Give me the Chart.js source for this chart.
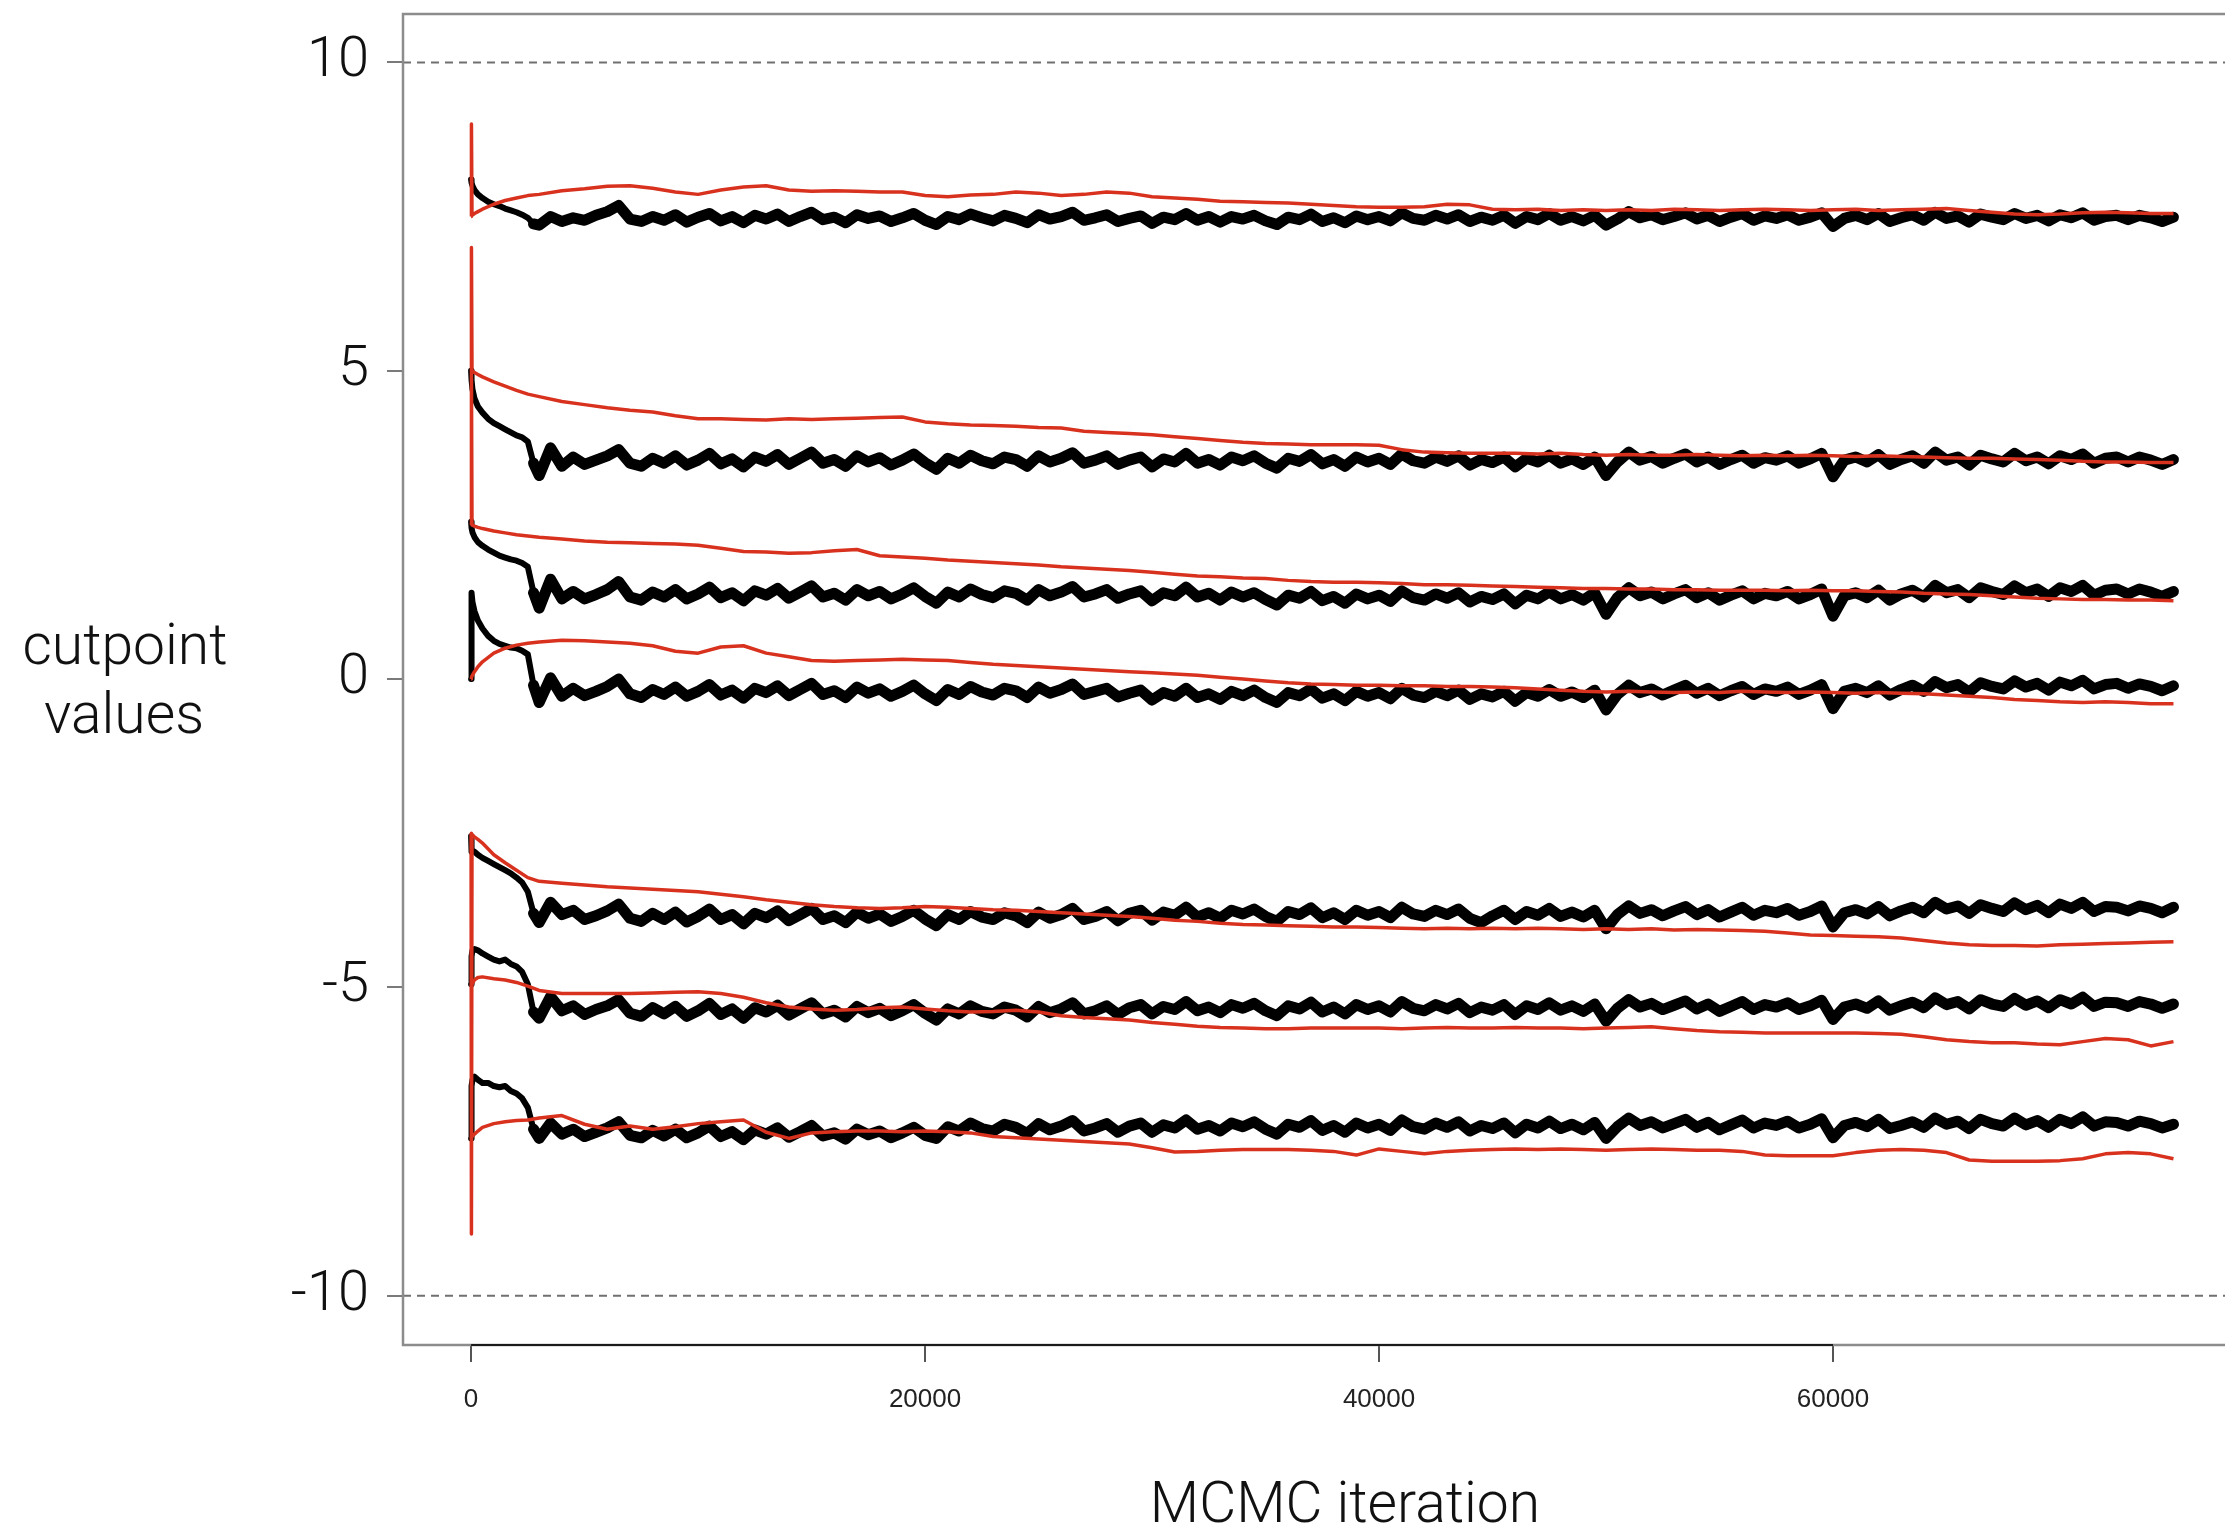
<!DOCTYPE html>
<html>
<head>
<meta charset="utf-8">
<title>MCMC cutpoint traces</title>
<script src="https://cdn.jsdelivr.net/npm/chart.js@4.4.1/dist/chart.umd.min.js"></script>
<style>
    html, body { margin: 0; padding: 0; background: #fff; overflow: hidden; }
    #traceChart { display: block; }
</style>
</head>
<body>
<canvas id="traceChart" width="2225" height="1529"></canvas>
<script>
// Iterations for the black chain (dense at the start, then every 500)
const iterBlack = [
    0, 20, 60, 150, 300, 500, 750, 1000, 1250, 1500, 1750, 2000, 2250, 2500, 2750,
    3000, 3500, 4000, 4500, 5000, 5500, 6000, 6500, 7000, 7500,
    8000, 8500, 9000, 9500, 10000, 10500, 11000, 11500, 12000, 12500,
    13000, 13500, 14000, 14500, 15000, 15500, 16000, 16500, 17000, 17500,
    18000, 18500, 19000, 19500, 20000, 20500, 21000, 21500, 22000, 22500,
    23000, 23500, 24000, 24500, 25000, 25500, 26000, 26500, 27000, 27500,
    28000, 28500, 29000, 29500, 30000, 30500, 31000, 31500, 32000, 32500,
    33000, 33500, 34000, 34500, 35000, 35500, 36000, 36500, 37000, 37500,
    38000, 38500, 39000, 39500, 40000, 40500, 41000, 41500, 42000, 42500,
    43000, 43500, 44000, 44500, 45000, 45500, 46000, 46500, 47000, 47500,
    48000, 48500, 49000, 49500, 50000, 50500, 51000, 51500, 52000, 52500,
    53000, 53500, 54000, 54500, 55000, 55500, 56000, 56500, 57000, 57500,
    58000, 58500, 59000, 59500, 60000, 60500, 61000, 61500, 62000, 62500,
    63000, 63500, 64000, 64500, 65000, 65500, 66000, 66500, 67000, 67500,
    68000, 68500, 69000, 69500, 70000, 70500, 71000, 71500, 72000, 72500,
    73000, 73500, 74000, 74500, 75000
];

// Iterations for the red chain (dense at the start, then every 1000)
const iterRed = [
    0, 15, 40, 150, 300, 500, 1000, 1500, 2000, 2500,
    3000, 4000, 5000, 6000, 7000, 8000, 9000, 10000, 11000, 12000,
    13000, 14000, 15000, 16000, 17000, 18000, 19000, 20000, 21000, 22000,
    23000, 24000, 25000, 26000, 27000, 28000, 29000, 30000, 31000, 32000,
    33000, 34000, 35000, 36000, 37000, 38000, 39000, 40000, 41000, 42000,
    43000, 44000, 45000, 46000, 47000, 48000, 49000, 50000, 51000, 52000,
    53000, 54000, 55000, 56000, 57000, 58000, 59000, 60000, 61000, 62000,
    63000, 64000, 65000, 66000, 67000, 68000, 69000, 70000, 71000, 72000,
    73000, 74000, 75000
];

// Black chain, cutpoints 1 (top) to 7 (bottom)
const blackCut1 = [
    8.1, 8.05, 8.0, 7.93, 7.86, 7.8, 7.74, 7.7, 7.67, 7.63, 7.6, 7.57, 7.53, 7.48, 7.38,
    7.36, 7.5, 7.42, 7.48, 7.44, 7.52, 7.58, 7.68, 7.46, 7.42,
    7.5, 7.44, 7.53, 7.41, 7.49, 7.55, 7.43, 7.5, 7.4, 7.52,
    7.46, 7.54, 7.42, 7.5, 7.57, 7.45, 7.49, 7.4, 7.53, 7.47,
    7.51, 7.42, 7.48, 7.55, 7.44, 7.37, 7.5, 7.45, 7.54, 7.48,
    7.43, 7.52, 7.47, 7.4, 7.53, 7.46, 7.5, 7.57, 7.44, 7.48,
    7.53, 7.42, 7.47, 7.51, 7.39, 7.49, 7.45, 7.55, 7.44, 7.5,
    7.41, 7.5, 7.46, 7.52, 7.43, 7.37, 7.49, 7.45, 7.54, 7.42,
    7.48, 7.4, 7.51, 7.45, 7.5, 7.43, 7.56, 7.47, 7.44, 7.52,
    7.46, 7.53, 7.42, 7.49, 7.44, 7.52, 7.39, 7.5, 7.45, 7.55,
    7.44, 7.5, 7.43, 7.52, 7.36, 7.46, 7.58, 7.48, 7.53, 7.45,
    7.5, 7.56, 7.46, 7.52, 7.42, 7.49, 7.55, 7.44, 7.51, 7.47,
    7.53, 7.44, 7.49, 7.56, 7.34, 7.47, 7.52, 7.45, 7.55, 7.42,
    7.48, 7.53, 7.44, 7.57, 7.47, 7.51, 7.41, 7.54, 7.49, 7.45,
    7.55, 7.47, 7.52, 7.43, 7.53, 7.48, 7.56, 7.44, 7.5, 7.52,
    7.45, 7.52, 7.48, 7.42, 7.49
];
const blackCut2 = [
    5.0, 4.85, 4.7, 4.55, 4.42, 4.32, 4.22, 4.15, 4.1, 4.05, 4.0, 3.95, 3.92, 3.85, 3.5,
    3.3, 3.75, 3.45, 3.6, 3.48, 3.55, 3.62, 3.72, 3.5, 3.45,
    3.58, 3.5, 3.62, 3.47, 3.55, 3.66, 3.49, 3.57, 3.44, 3.6,
    3.53, 3.64, 3.48, 3.58, 3.68, 3.5, 3.56, 3.45, 3.62, 3.52,
    3.59, 3.47, 3.55, 3.65, 3.51, 3.4, 3.58, 3.5, 3.63, 3.54,
    3.49, 3.6, 3.56, 3.45, 3.62, 3.52, 3.58, 3.67, 3.5, 3.55,
    3.62, 3.48, 3.55, 3.6, 3.44, 3.57, 3.52, 3.66, 3.5, 3.56,
    3.47, 3.6, 3.54, 3.62, 3.5, 3.42, 3.58, 3.53, 3.64, 3.49,
    3.56, 3.45, 3.6, 3.52, 3.58, 3.48, 3.65, 3.54, 3.5, 3.6,
    3.53, 3.62, 3.47, 3.56, 3.51, 3.6, 3.44, 3.58, 3.52, 3.63,
    3.5, 3.57, 3.48, 3.6, 3.3, 3.52, 3.68, 3.55, 3.61, 3.5,
    3.58, 3.65, 3.52, 3.6, 3.48, 3.56, 3.63, 3.5, 3.59, 3.55,
    3.62, 3.5, 3.57, 3.66, 3.28, 3.55, 3.6, 3.52, 3.64, 3.48,
    3.56, 3.62, 3.5, 3.68, 3.55, 3.6, 3.47, 3.63, 3.57, 3.52,
    3.66, 3.54, 3.6, 3.49, 3.62, 3.56, 3.65, 3.5, 3.58, 3.6,
    3.52, 3.6, 3.55, 3.48, 3.56
];
const blackCut3 = [
    2.55, 2.45, 2.38, 2.3, 2.22, 2.16, 2.1, 2.05, 2.0, 1.97, 1.94, 1.92, 1.88, 1.82, 1.4,
    1.15, 1.62, 1.3, 1.42, 1.3, 1.37, 1.45, 1.58, 1.33, 1.28,
    1.41, 1.33, 1.45, 1.3, 1.38, 1.49, 1.32, 1.4, 1.27, 1.43,
    1.36, 1.47, 1.31, 1.41, 1.51, 1.33, 1.39, 1.28, 1.45, 1.35,
    1.42, 1.3, 1.38, 1.48, 1.34, 1.23, 1.41, 1.33, 1.46, 1.37,
    1.32, 1.43, 1.39, 1.28, 1.45, 1.35, 1.41, 1.5, 1.33, 1.38,
    1.45, 1.31, 1.38, 1.43, 1.27, 1.4, 1.35, 1.49, 1.33, 1.39,
    1.28, 1.41, 1.33, 1.4, 1.29, 1.2, 1.36, 1.31, 1.42, 1.27,
    1.34, 1.23, 1.38, 1.3, 1.36, 1.26, 1.43, 1.32, 1.28, 1.38,
    1.31, 1.4, 1.25, 1.34, 1.29, 1.38, 1.22, 1.36, 1.3, 1.41,
    1.3, 1.37, 1.28, 1.4, 1.05, 1.32, 1.48, 1.35, 1.41, 1.3,
    1.38, 1.45, 1.32, 1.4, 1.28, 1.36, 1.43, 1.3, 1.39, 1.35,
    1.42, 1.3, 1.37, 1.46, 1.02, 1.35, 1.4, 1.32, 1.44, 1.28,
    1.38, 1.44, 1.33, 1.52, 1.4, 1.45, 1.32, 1.48, 1.42, 1.37,
    1.51, 1.4, 1.46, 1.34, 1.48, 1.42, 1.52, 1.36, 1.44, 1.46,
    1.38, 1.46, 1.41, 1.34, 1.42
];
const blackCut4 = [
    0.0, 1.4, 1.25, 1.1, 0.95, 0.82, 0.7, 0.62, 0.57, 0.54, 0.51, 0.5, 0.46, 0.4, -0.1,
    -0.38, 0.02, -0.28, -0.15, -0.27, -0.2, -0.12, 0.0, -0.24, -0.3,
    -0.17, -0.25, -0.13, -0.28, -0.2, -0.09, -0.26, -0.18, -0.31, -0.15,
    -0.22, -0.11, -0.27, -0.17, -0.07, -0.25, -0.19, -0.3, -0.13, -0.23,
    -0.16, -0.28, -0.2, -0.1, -0.24, -0.35, -0.17, -0.25, -0.12, -0.21,
    -0.26, -0.15, -0.19, -0.3, -0.13, -0.23, -0.17, -0.08, -0.25, -0.2,
    -0.15, -0.29, -0.23, -0.18, -0.34, -0.22, -0.28, -0.15, -0.3, -0.24,
    -0.33, -0.2, -0.27, -0.18, -0.3, -0.38, -0.22, -0.27, -0.16, -0.31,
    -0.24, -0.35, -0.2, -0.28, -0.22, -0.32, -0.15, -0.26, -0.3, -0.2,
    -0.27, -0.18, -0.33, -0.24, -0.29, -0.2, -0.36, -0.22, -0.28, -0.17,
    -0.28, -0.21, -0.3, -0.18, -0.5, -0.25, -0.1, -0.22, -0.16, -0.26,
    -0.18, -0.1, -0.23, -0.15, -0.27, -0.19, -0.12, -0.25, -0.16, -0.2,
    -0.13, -0.25, -0.18, -0.09, -0.48, -0.2, -0.15, -0.22, -0.11, -0.26,
    -0.17, -0.1, -0.2, -0.04, -0.14, -0.09, -0.21, -0.06, -0.12, -0.16,
    -0.03, -0.13, -0.07, -0.18, -0.05, -0.11, -0.02, -0.16, -0.09, -0.07,
    -0.15, -0.08, -0.12, -0.19, -0.11
];
const blackCut5 = [
    -2.55, -2.8, -2.78, -2.8, -2.85, -2.9, -2.95, -3.0, -3.05, -3.1, -3.15, -3.22, -3.3, -3.45, -3.8,
    -3.95, -3.62, -3.82, -3.75, -3.9, -3.84, -3.76, -3.65, -3.88, -3.93,
    -3.8, -3.9, -3.78, -3.94, -3.85, -3.73, -3.9, -3.82, -3.97, -3.8,
    -3.87, -3.76, -3.92, -3.82, -3.72, -3.9, -3.84, -3.95, -3.78, -3.88,
    -3.81, -3.93, -3.85, -3.75, -3.89, -4.0, -3.82, -3.9, -3.77, -3.86,
    -3.9, -3.79, -3.84, -3.95, -3.78, -3.88, -3.82, -3.72, -3.9, -3.85,
    -3.77, -3.92, -3.8, -3.75, -3.91, -3.78, -3.83, -3.7, -3.86, -3.79,
    -3.88, -3.75, -3.81, -3.73, -3.85, -3.93, -3.77, -3.82, -3.71, -3.87,
    -3.79, -3.9, -3.75, -3.83, -3.77, -3.87, -3.7, -3.81, -3.85, -3.75,
    -3.82, -3.73, -3.88, -3.95, -3.84, -3.75, -3.9, -3.77, -3.83, -3.72,
    -3.85, -3.78, -3.86, -3.75, -4.05, -3.82, -3.68, -3.8, -3.74, -3.84,
    -3.76, -3.69, -3.82, -3.74, -3.86, -3.78, -3.7, -3.83, -3.75, -3.79,
    -3.72, -3.83, -3.77, -3.68, -4.02, -3.79, -3.74, -3.81, -3.69, -3.84,
    -3.76, -3.7, -3.79, -3.62, -3.73, -3.68, -3.8, -3.66, -3.72, -3.77,
    -3.63, -3.74, -3.67, -3.79, -3.65, -3.72, -3.62, -3.77, -3.69, -3.7,
    -3.76, -3.68, -3.72, -3.79, -3.7
];
const blackCut6 = [
    -4.95, -4.5, -4.4, -4.38, -4.4, -4.45, -4.5, -4.55, -4.58, -4.55, -4.62, -4.66, -4.75, -4.95, -5.4,
    -5.5, -5.15, -5.38, -5.3, -5.44, -5.36, -5.3, -5.2, -5.42, -5.47,
    -5.33, -5.43, -5.31, -5.47, -5.38, -5.26, -5.44, -5.35, -5.5, -5.33,
    -5.4, -5.29, -5.45, -5.35, -5.25, -5.43, -5.37, -5.48, -5.31, -5.41,
    -5.34, -5.46, -5.38, -5.28, -5.42, -5.53, -5.35, -5.43, -5.3, -5.39,
    -5.43, -5.32, -5.37, -5.48, -5.31, -5.41, -5.35, -5.25, -5.43, -5.38,
    -5.3, -5.44, -5.33, -5.28, -5.43, -5.31, -5.36, -5.23, -5.38, -5.32,
    -5.41, -5.28, -5.34, -5.26, -5.38, -5.46, -5.3, -5.35, -5.24, -5.4,
    -5.32, -5.43, -5.28, -5.36, -5.3, -5.4, -5.23, -5.34, -5.38, -5.28,
    -5.35, -5.26, -5.41, -5.32, -5.37, -5.28, -5.44, -5.3, -5.36, -5.25,
    -5.37, -5.3, -5.39, -5.27, -5.55, -5.34, -5.2, -5.32, -5.26, -5.36,
    -5.29, -5.22, -5.35, -5.27, -5.39, -5.31, -5.23, -5.36, -5.28, -5.32,
    -5.25, -5.36, -5.3, -5.21, -5.52, -5.32, -5.27, -5.34, -5.22, -5.37,
    -5.3, -5.24, -5.33, -5.17, -5.28, -5.23, -5.35, -5.2, -5.27, -5.31,
    -5.18, -5.29, -5.22, -5.33, -5.2, -5.27, -5.16, -5.31, -5.24, -5.25,
    -5.31, -5.23, -5.27, -5.34, -5.27
];
const blackCut7 = [
    -7.45, -6.6, -6.5, -6.45, -6.5, -6.55, -6.55, -6.6, -6.62, -6.6, -6.68, -6.72, -6.8, -6.95, -7.3,
    -7.45, -7.2, -7.38, -7.3, -7.42, -7.35, -7.28, -7.18, -7.4, -7.44,
    -7.32, -7.41, -7.3, -7.44, -7.36, -7.25, -7.42, -7.34, -7.47, -7.31,
    -7.38, -7.28, -7.43, -7.34, -7.24, -7.41, -7.36, -7.46, -7.3, -7.39,
    -7.33, -7.44, -7.36, -7.27, -7.4, -7.45, -7.26, -7.33, -7.2, -7.29,
    -7.33, -7.22, -7.27, -7.37, -7.21, -7.31, -7.25, -7.16, -7.33, -7.28,
    -7.21, -7.35, -7.25, -7.2, -7.35, -7.23, -7.28, -7.15, -7.3, -7.24,
    -7.33, -7.2, -7.26, -7.18, -7.3, -7.38, -7.22, -7.27, -7.16, -7.32,
    -7.24, -7.35, -7.2, -7.28, -7.22, -7.32, -7.15, -7.26, -7.3, -7.2,
    -7.27, -7.18, -7.33, -7.24, -7.29, -7.2, -7.36, -7.22, -7.28, -7.17,
    -7.29, -7.22, -7.31, -7.19, -7.45, -7.26, -7.12, -7.24, -7.18, -7.28,
    -7.21, -7.14, -7.27, -7.19, -7.31, -7.23, -7.15, -7.28, -7.2, -7.24,
    -7.17, -7.28, -7.22, -7.13, -7.44, -7.24, -7.19, -7.26, -7.14, -7.29,
    -7.24, -7.18, -7.27, -7.12, -7.22, -7.17, -7.29, -7.14, -7.21, -7.25,
    -7.12, -7.23, -7.16, -7.27, -7.14, -7.21, -7.1, -7.25, -7.18, -7.19,
    -7.25, -7.17, -7.21, -7.28, -7.22
];

// Red chain, cutpoints 1 (top) to 7 (bottom)
const redCut1 = [
    7.5, 9.0, 7.52, 7.55, 7.58, 7.62, 7.7, 7.76, 7.8, 7.84,
    7.86, 7.92, 7.95, 7.99, 8.0, 7.96, 7.9, 7.86, 7.93, 7.98,
    8.0, 7.93, 7.91, 7.92, 7.91, 7.9, 7.9, 7.84, 7.82, 7.85,
    7.86, 7.9, 7.88, 7.84, 7.86, 7.9, 7.88, 7.82, 7.8, 7.78,
    7.75, 7.74, 7.73, 7.72, 7.7, 7.68, 7.66, 7.65, 7.65, 7.66,
    7.7, 7.69, 7.62, 7.61, 7.62, 7.6, 7.61, 7.6, 7.61, 7.6,
    7.62, 7.61, 7.6, 7.61, 7.62, 7.61, 7.6, 7.61, 7.62, 7.6,
    7.61, 7.62, 7.63, 7.6, 7.57, 7.54, 7.53, 7.54, 7.56, 7.57,
    7.56, 7.55, 7.55
];
const redCut2 = [
    5.0, 7.0, 5.0, 4.97, 4.94, 4.9, 4.82, 4.75, 4.68, 4.62,
    4.58, 4.5, 4.45, 4.4, 4.36, 4.33, 4.27, 4.22, 4.22, 4.21,
    4.2, 4.22, 4.21, 4.22, 4.23, 4.24, 4.25, 4.17, 4.14, 4.12,
    4.11, 4.1, 4.08, 4.07, 4.02, 4.0, 3.98, 3.96, 3.93, 3.9,
    3.87, 3.84, 3.82, 3.81, 3.8, 3.8, 3.8, 3.79, 3.72, 3.68,
    3.67, 3.66, 3.66, 3.66, 3.65, 3.66, 3.64, 3.63, 3.64, 3.63,
    3.63, 3.64, 3.63, 3.62, 3.63, 3.62, 3.63, 3.62, 3.61, 3.62,
    3.61, 3.6, 3.59, 3.58, 3.58, 3.57, 3.56, 3.55, 3.53, 3.52,
    3.52, 3.51, 3.51
];
const redCut3 = [
    2.5, 5.0, 2.5, 2.48, 2.46, 2.44, 2.4, 2.37, 2.34, 2.32,
    2.3, 2.27, 2.24, 2.22, 2.21, 2.2, 2.19, 2.17, 2.12, 2.07,
    2.06, 2.04, 2.05, 2.08, 2.1, 2.0, 1.98, 1.96, 1.93, 1.91,
    1.89, 1.87, 1.85, 1.82, 1.8, 1.78, 1.76, 1.73, 1.7, 1.67,
    1.66, 1.64, 1.63, 1.6, 1.58, 1.57, 1.57, 1.56, 1.55, 1.53,
    1.53, 1.52, 1.51, 1.5, 1.49, 1.48, 1.47, 1.47, 1.46, 1.46,
    1.45, 1.45, 1.44, 1.44, 1.44, 1.43, 1.44, 1.43, 1.43, 1.42,
    1.41, 1.39, 1.38, 1.37, 1.35, 1.33, 1.31, 1.3, 1.29, 1.29,
    1.28, 1.28, 1.27
];
const redCut4 = [
    0.0, 0.02, 0.05, 0.12, 0.2, 0.28, 0.42, 0.5, 0.55, 0.58,
    0.6, 0.63, 0.62, 0.6, 0.58, 0.54, 0.45, 0.42, 0.52, 0.54,
    0.42, 0.36, 0.3, 0.29, 0.3, 0.31, 0.32, 0.31, 0.3, 0.27,
    0.24, 0.22, 0.2, 0.18, 0.16, 0.14, 0.12, 0.1, 0.08, 0.06,
    0.03, 0.0, -0.03, -0.06, -0.08, -0.09, -0.1, -0.1, -0.11, -0.11,
    -0.12, -0.12, -0.13, -0.14, -0.16, -0.18, -0.2, -0.21, -0.2, -0.21,
    -0.22, -0.21, -0.22, -0.2, -0.21, -0.22, -0.21, -0.22, -0.23, -0.22,
    -0.23, -0.24, -0.26, -0.28, -0.3, -0.33, -0.35, -0.37, -0.38, -0.37,
    -0.38, -0.4, -0.4
];
const redCut5 = [
    -2.5, -9.0, -2.52, -2.56, -2.6, -2.66, -2.85, -2.98, -3.1, -3.22,
    -3.28, -3.31, -3.34, -3.37, -3.39, -3.41, -3.43, -3.45, -3.49, -3.53,
    -3.58, -3.62, -3.66, -3.69, -3.71, -3.72, -3.71, -3.69, -3.7, -3.72,
    -3.74, -3.75, -3.77, -3.79, -3.81, -3.83, -3.85, -3.88, -3.91, -3.93,
    -3.96, -3.98, -3.99, -4.0, -4.01, -4.02, -4.02, -4.03, -4.04, -4.05,
    -4.04, -4.05, -4.04, -4.05, -4.04, -4.05, -4.06, -4.05, -4.06, -4.05,
    -4.07, -4.06, -4.07, -4.08, -4.09, -4.12, -4.15, -4.16, -4.17, -4.18,
    -4.2, -4.24, -4.28, -4.31, -4.32, -4.32, -4.33, -4.31, -4.3, -4.29,
    -4.28, -4.27, -4.26
];
const redCut6 = [
    -5.0, -5.0, -4.95, -4.88, -4.84, -4.83, -4.86, -4.88, -4.92, -4.98,
    -5.05, -5.1, -5.1, -5.1, -5.1, -5.09, -5.08, -5.07, -5.1, -5.16,
    -5.25, -5.32, -5.35, -5.37, -5.36, -5.33, -5.32, -5.35, -5.38, -5.4,
    -5.39, -5.37, -5.4, -5.46, -5.49, -5.51, -5.53, -5.57, -5.6, -5.63,
    -5.65, -5.66, -5.67, -5.67, -5.66, -5.66, -5.66, -5.66, -5.67, -5.66,
    -5.65, -5.66, -5.66, -5.65, -5.66, -5.66, -5.67, -5.66, -5.65, -5.64,
    -5.67, -5.7, -5.72, -5.73, -5.74, -5.74, -5.74, -5.74, -5.74, -5.75,
    -5.76, -5.8, -5.85, -5.88, -5.9, -5.9, -5.92, -5.93, -5.88, -5.83,
    -5.85, -5.95, -5.88
];
const redCut7 = [
    -7.45, -7.45, -7.42, -7.38, -7.33, -7.27, -7.21, -7.18, -7.16, -7.15,
    -7.12, -7.08, -7.22, -7.3, -7.25, -7.3, -7.26, -7.21, -7.18, -7.15,
    -7.35, -7.45, -7.36, -7.34, -7.33, -7.33, -7.34, -7.33, -7.34, -7.36,
    -7.42, -7.44, -7.46, -7.48, -7.5, -7.52, -7.54, -7.6, -7.67, -7.66,
    -7.64, -7.63, -7.63, -7.63, -7.64, -7.66, -7.72, -7.62, -7.66, -7.7,
    -7.66, -7.64, -7.63, -7.62, -7.63, -7.62, -7.63, -7.64, -7.63, -7.62,
    -7.63, -7.64, -7.64, -7.66, -7.72, -7.73, -7.73, -7.73, -7.68, -7.64,
    -7.63, -7.64, -7.68, -7.8, -7.82, -7.82, -7.82, -7.81, -7.78, -7.7,
    -7.68, -7.7, -7.78
];

// Axis ticks and reference lines
const xTicks = [0, 20000, 40000, 60000];
const yTicks = [-10, -5, 0, 5, 10];
const refLevels = [10, -10];

const blackChains = [blackCut1, blackCut2, blackCut3, blackCut4, blackCut5, blackCut6, blackCut7];
const redChains = [redCut1, redCut2, redCut3, redCut4, redCut5, redCut6, redCut7];

const X_MIN = -3000;
const X_MAX = 77270;
const BURN_IN_POINTS = 14;   // black segments before the first big drop are drawn thinner

const SANS = '"Helvetica Neue", Roboto, "Liberation Sans", Arial, sans-serif';
const PLAIN = 'Helvetica, "Liberation Sans", Arial, sans-serif';

function toPoints(xs, ys) {
    return ys.map((y, i) => ({ x: xs[i], y: y }));
}

const datasets = [];

redChains.forEach((chain, i) => {
    datasets.push({
        label: 'red ' + (i + 1),
        data: toPoints(iterRed, chain),
        borderColor: '#d8321f',
        borderWidth: 3.5,
        borderJoinStyle: 'round',
        pointRadius: 0,
        tension: 0,
        order: 1
    });
});

blackChains.forEach((chain, i) => {
    datasets.push({
        label: 'black ' + (i + 1),
        data: toPoints(iterBlack, chain),
        borderColor: '#000000',
        borderWidth: 11,
        borderJoinStyle: 'round',
        borderCapStyle: 'round',
        pointRadius: 0,
        tension: 0,
        order: 2,
        segment: {
            borderWidth: ctx => (ctx.p0DataIndex < BURN_IN_POINTS ? 6 : 11)
        }
    });
});

refLevels.forEach(level => {
    datasets.push({
        label: 'limit ' + level,
        data: [{ x: X_MIN, y: level }, { x: X_MAX, y: level }],
        borderColor: '#707070',
        borderWidth: 2,
        borderDash: [8, 6],
        pointRadius: 0,
        order: 3
    });
});

// Frame (R style box, open at the cropped right edge) and axis titles
const framePlugin = {
    id: 'frame',
    afterDatasetsDraw(chart) {
        const { ctx, chartArea: a, scales: { x } } = chart;
        ctx.save();
        ctx.strokeStyle = '#8c8c8c';
        ctx.lineWidth = 2.5;
        ctx.beginPath();
        ctx.moveTo(a.right, a.top);
        ctx.lineTo(a.left, a.top);
        ctx.lineTo(a.left, a.bottom);
        ctx.lineTo(a.right, a.bottom);
        ctx.stroke();

        ctx.strokeStyle = '#1a1a1a';
        ctx.lineWidth = 2;
        ctx.beginPath();
        ctx.moveTo(x.getPixelForValue(xTicks[0]), a.bottom);
        ctx.lineTo(x.getPixelForValue(xTicks[xTicks.length - 1]), a.bottom);
        ctx.stroke();

        ctx.fillStyle = '#111';
        ctx.font = '300 57px ' + SANS;
        ctx.textAlign = 'center';
        ctx.textBaseline = 'middle';
        ctx.fillText('cutpoint', 125, 650);
        ctx.fillText('values', 124, 719);
        ctx.fillText('MCMC iteration', 1345, 1508);
        ctx.restore();
    }
};

new Chart(document.getElementById('traceChart'), {
    type: 'line',
    data: { datasets: datasets },
    options: {
        responsive: false,
        animation: false,
        devicePixelRatio: 1,
        events: [],
        layout: {
            autoPadding: false,
            padding: { top: 14, right: 0, bottom: 0, left: 0 }
        },
        plugins: {
            legend: { display: false },
            tooltip: { enabled: false }
        },
        scales: {
            x: {
                type: 'linear',
                min: X_MIN,
                max: X_MAX,
                afterBuildTicks: scale => { scale.ticks = xTicks.map(v => ({ value: v })); },
                afterFit: scale => {
                    scale.height = 184;
                    scale.paddingLeft = 0;
                    scale.paddingRight = 0;
                },
                border: { display: false },
                grid: {
                    drawOnChartArea: false,
                    drawTicks: true,
                    tickLength: 17,
                    color: '#555',
                    lineWidth: 2
                },
                ticks: {
                    autoSkip: false,
                    maxRotation: 0,
                    padding: 22,
                    color: '#222',
                    font: { family: PLAIN, size: 26 },
                    callback: v => String(v)
                }
            },
            y: {
                type: 'linear',
                min: -10.8,
                max: 10.785,
                afterBuildTicks: scale => { scale.ticks = yTicks.map(v => ({ value: v })); },
                afterFit: scale => {
                    scale.width = 403;
                    scale.paddingTop = 0;
                    scale.paddingBottom = 0;
                },
                border: { display: false },
                grid: {
                    drawOnChartArea: false,
                    drawTicks: true,
                    tickLength: 16,
                    color: '#7a7a7a',
                    lineWidth: 2
                },
                ticks: {
                    autoSkip: false,
                    padding: 18,
                    color: '#111',
                    font: { family: SANS, size: 56, weight: '300' },
                    callback: v => String(v)
                }
            }
        }
    },
    plugins: [framePlugin]
});
</script>
</body>
</html>
